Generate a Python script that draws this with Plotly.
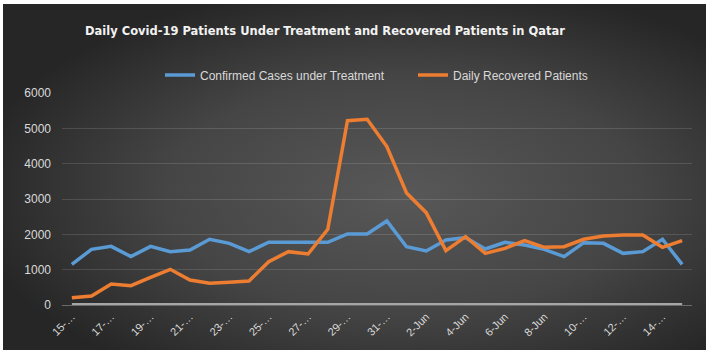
import base64
import plotly.graph_objects as go

# ---------------- data ----------------
dates = ["15-May", "16-May", "17-May", "18-May", "19-May", "20-May", "21-May", "22-May",
         "23-May", "24-May", "25-May", "26-May", "27-May", "28-May", "29-May", "30-May",
         "31-May", "1-Jun", "2-Jun", "3-Jun", "4-Jun", "5-Jun", "6-Jun", "7-Jun",
         "8-Jun", "9-Jun", "10-Jun", "11-Jun", "12-Jun", "13-Jun", "14-Jun", "15-Jun"]

under_treatment = [1150, 1575, 1660, 1370, 1660, 1510, 1555, 1860,
                   1745, 1510, 1775, 1775, 1775, 1775, 2010, 2010,
                   2378, 1650, 1528, 1840, 1906, 1585, 1774, 1698,
                   1576, 1368, 1764, 1745, 1462, 1510, 1860, 1150]

recovered = [207, 255, 595, 547, 783, 1010, 708, 613,
             642, 680, 1226, 1510, 1443, 2142, 5218, 5255,
             4483, 3170, 2613, 1538, 1934, 1462, 1604, 1821,
             1632, 1650, 1860, 1953, 1981, 1981, 1632, 1821]

baseline = [0, 0, 0, 0, 0, 0, 0, 0, 0, 0, 0, 0, 0, 0, 0, 0,
            0, 0, 0, 0, 0, 0, 0, 0, 0, 0, 0, 0, 0, 0, 0, 0]

tick_dates = ["15-May", "17-May", "19-May", "21-May", "23-May", "25-May", "27-May", "29-May",
              "31-May", "2-Jun", "4-Jun", "6-Jun", "8-Jun", "10-Jun", "12-Jun", "14-Jun"]
tick_labels = ["15-\u2026", "17-\u2026", "19-\u2026", "21-\u2026", "23-\u2026", "25-\u2026",
               "27-\u2026", "29-\u2026", "31-\u2026", "2-Jun", "4-Jun", "6-Jun", "8-Jun",
               "10-\u2026", "12-\u2026", "14-\u2026"]

title_text = "Daily Covid-19 Patients Under Treatment and Recovered Patients in Qatar"

# ---------------- geometry ----------------
W, H = 713, 353
ML, MR, MT, MB = 62, 21, 93, 48
PW, PH = W - ML - MR, H - MT - MB

def px_x(px):
    return (px - ML) / PW

def px_y(py):
    return (H - MB - py) / PH

svg = (
    '<svg xmlns="http://www.w3.org/2000/svg" width="703" height="346" '
    'viewBox="0 0 703 346" preserveAspectRatio="none">'
    '<defs><radialGradient id="g" cx="0.57" cy="0.55" r="0.62">'
    '<stop offset="0" stop-color="#585858"/>'
    '<stop offset="0.55" stop-color="#454545"/>'
    '<stop offset="1" stop-color="#262626"/>'
    '</radialGradient></defs>'
    '<rect width="703" height="346" fill="url(#g)"/></svg>'
)
bg_src = "data:image/svg+xml;base64," + base64.b64encode(svg.encode()).decode()

fig = go.Figure()

fig.add_trace(go.Scatter(
    x=dates, y=baseline, mode="lines", name="baseline", showlegend=False,
    line=dict(color="#a6a6a6", width=4), cliponaxis=False, hoverinfo="skip"))

fig.add_trace(go.Scatter(
    x=dates, y=under_treatment, mode="lines", name="Confirmed Cases under Treatment",
    line=dict(color="#5b9bd5", width=3.5)))

fig.add_trace(go.Scatter(
    x=dates, y=recovered, mode="lines", name="Daily Recovered Patients",
    line=dict(color="#ed7d31", width=3.5)))

fig.update_layout(
    width=W, height=H,
    margin=dict(l=ML, r=MR, t=MT, b=MB, pad=0),
    paper_bgcolor="white",
    plot_bgcolor="rgba(0,0,0,0)",
    font=dict(family="Liberation Sans, Arial, sans-serif", color="#d9d9d9"),
    images=[dict(source=bg_src, xref="paper", yref="paper",
                 x=px_x(3), y=px_y(4), sizex=703 / PW, sizey=346 / PH,
                 xanchor="left", yanchor="top", sizing="stretch", layer="below")],
    annotations=[dict(text="<b>" + title_text + "</b>", xref="paper", yref="paper",
                      x=px_x(83), y=px_y(31), xanchor="left", yanchor="middle",
                      showarrow=False,
                      font=dict(size=11.5, color="#f2f2f2",
                                family="DejaVu Sans, Arial, sans-serif"))],
    legend=dict(orientation="h", x=px_x(160), y=px_y(75), xanchor="left", yanchor="middle",
                bgcolor="rgba(0,0,0,0)", font=dict(size=12, color="#d9d9d9"),
                itemwidth=30, tracegroupgap=0, entrywidth=208, entrywidthmode="pixels"),
    showlegend=True,
    xaxis=dict(type="category", categoryorder="array", categoryarray=dates,
               range=[-0.5, len(dates) - 0.5],
               tickmode="array", tickvals=tick_dates, ticktext=tick_labels,
               tickangle=-45, tickfont=dict(size=11, color="#d9d9d9"),
               showgrid=False, showline=True, linecolor="#6b6b6b", linewidth=1,
               ticks="", zeroline=False, fixedrange=True),
    yaxis=dict(range=[0, 6000], tickvals=[0, 1000, 2000, 3000, 4000, 5000, 6000],
               tickfont=dict(size=12, color="#d9d9d9"),
               showgrid=True, gridcolor="rgba(255,255,255,0.13)", gridwidth=1,
               zeroline=False, showline=False, ticks="", ticklabelstandoff=10,
               fixedrange=True),
)

fig.write_html("out.html")
